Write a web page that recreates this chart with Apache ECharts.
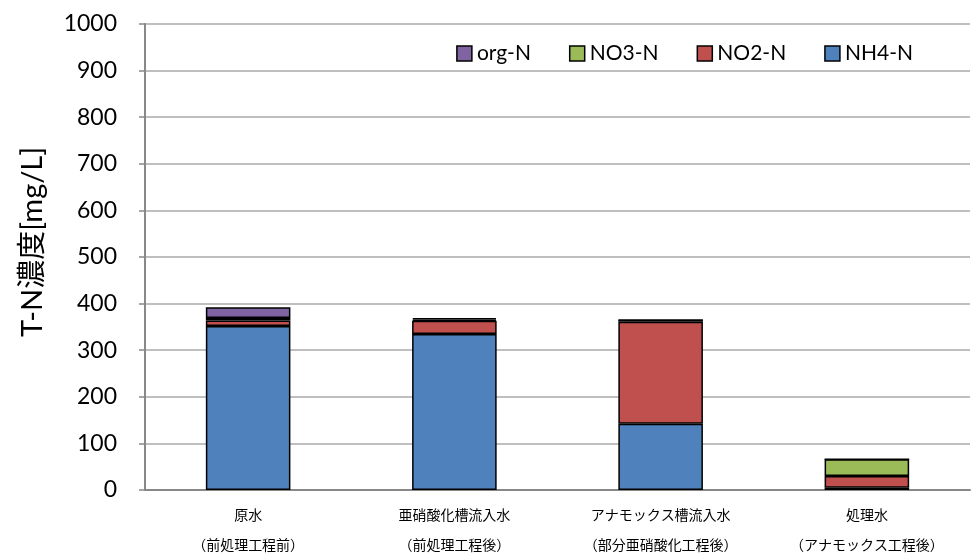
<!DOCTYPE html>
<html>
<head>
<meta charset="utf-8">
<script src="https://cdn.jsdelivr.net/npm/echarts@6/dist/echarts.min.js"></script>
<style>
  html, body { margin: 0; padding: 0; background: #fff; overflow: hidden; }
  #chart { width: 973px; height: 553px; }
</style>
</head>
<body>
<div id="chart"></div>
<script>
// Sampling points along the treatment line
const categories = [
  '原水\n（前処理工程前）',
  '亜硝酸化槽流入水\n（前処理工程後）',
  'アナモックス槽流入水\n（部分亜硝酸化工程後）',
  '処理水\n（アナモックス工程後）'
];
// Nitrogen species concentrations [mg/L]
const nh4N = [352, 335, 142, 5];
const no2N = [12, 28, 219, 25];
const no3N = [5, 3, 4, 36];
const orgN = [23, 3, 0, 0];
// Y-axis ticks
const yTicks = [0, 100, 200, 300, 400, 500, 600, 700, 800, 900, 1000];

const colors = { nh4: '#4F81BD', no2: '#C0504D', no3: '#9BBB59', org: '#8064A2' };

function barSeries(name, data, color) {
  return {
    name: name,
    type: 'bar',
    stack: 'tn',
    barWidth: '41%',
    data: data,
    itemStyle: { color: color, borderColor: '#000', borderWidth: 1.5 }
  };
}

const chart = echarts.init(document.getElementById('chart'), null, { renderer: 'canvas' });
chart.setOption({
  animation: false,
  backgroundColor: '#fff',
  grid: { left: 145, right: 3, top: 24, bottom: 63, containLabel: false, outerBoundsMode: 'none' },
  legend: {
    right: 55,
    top: 38,
    itemWidth: 15,
    itemHeight: 15,
    itemGap: 38,
    data: ['org-N', 'NO3-N', 'NO2-N', 'NH4-N'],
    textStyle: { fontFamily: 'Lato, "Open Sans", sans-serif', fontSize: 21, color: '#000' },
    itemStyle: { borderColor: '#000', borderWidth: 1.5 },
    icon: 'rect'
  },
  xAxis: {
    type: 'category',
    data: categories,
    axisLine: { lineStyle: { color: '#888', width: 2 } },
    axisTick: { show: false },
    axisLabel: {
      interval: 0,
      margin: 10,
      fontFamily: '"Noto Sans CJK JP", sans-serif',
      fontSize: 14,
      lineHeight: 30,
      color: '#000'
    }
  },
  yAxis: {
    type: 'value',
    min: yTicks[0],
    max: yTicks[yTicks.length - 1],
    interval: 100,
    name: 'T-N濃度[mg/L]',
    nameLocation: 'middle',
    nameGap: 98,
    nameTextStyle: {
      fontFamily: 'Lato, "Noto Sans CJK JP", sans-serif',
      fontSize: 29,
      color: '#000',
      padding: [0, 0, 0, 30]
    },
    axisLine: { show: true, lineStyle: { color: '#888', width: 2 } },
    axisTick: { show: true, length: 6, lineStyle: { color: '#888', width: 1.5 } },
    axisLabel: {
      margin: 28,
      fontFamily: 'Lato, "Open Sans", sans-serif',
      fontSize: 23,
      color: '#000',
      formatter: function (v) { return String(v); }
    },
    splitLine: { lineStyle: { color: '#aaa', width: 1.5 } }
  },
  series: [
    barSeries('NH4-N', nh4N, colors.nh4),
    barSeries('NO2-N', no2N, colors.no2),
    barSeries('NO3-N', no3N, colors.no3),
    barSeries('org-N', orgN, colors.org)
  ]
});
</script>
</body>
</html>
